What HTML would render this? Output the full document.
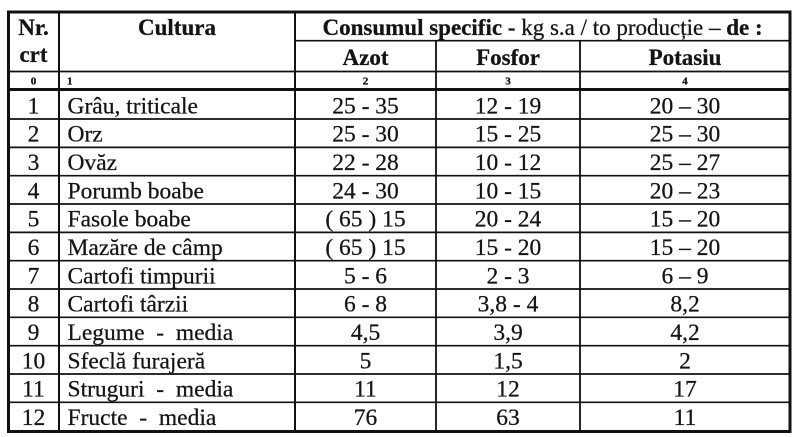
<!DOCTYPE html>
<html>
<head>
<meta charset="utf-8">
<style>
html,body{margin:0;padding:0;background:#fff;}
svg{display:block;}
text{font-family:"Liberation Serif","DejaVu Serif",serif;fill:#141414;stroke:#141414;stroke-width:0.25px;}
.d{font-size:23.5px;}
.b{font-weight:bold;font-size:23px;}
.s{font-weight:bold;font-size:11px;stroke-width:0.3px;}
</style>
</head>
<body>
<svg width="800" height="437" viewBox="0 0 800 437" xmlns="http://www.w3.org/2000/svg">
<rect x="0" y="0" width="800" height="437" fill="#fff"/>
<g stroke="#111" fill="none">
  <line x1="295" y1="40.7" x2="790" y2="40.7" stroke-width="1.7"/>
  <line x1="8" y1="71.5" x2="790" y2="71.5" stroke-width="1.7"/>
  <line x1="8" y1="89.5" x2="790" y2="89.5" stroke-width="3"/>
  <line x1="8" y1="119.0" x2="790" y2="119.0" stroke-width="1.7"/>
  <line x1="8" y1="147.4" x2="790" y2="147.4" stroke-width="1.7"/>
  <line x1="8" y1="175.7" x2="790" y2="175.7" stroke-width="1.7"/>
  <line x1="8" y1="204.0" x2="790" y2="204.0" stroke-width="1.7"/>
  <line x1="8" y1="232.4" x2="790" y2="232.4" stroke-width="1.7"/>
  <line x1="8" y1="260.7" x2="790" y2="260.7" stroke-width="1.7"/>
  <line x1="8" y1="289.0" x2="790" y2="289.0" stroke-width="1.7"/>
  <line x1="8" y1="317.3" x2="790" y2="317.3" stroke-width="1.7"/>
  <line x1="8" y1="345.7" x2="790" y2="345.7" stroke-width="1.7"/>
  <line x1="8" y1="374.0" x2="790" y2="374.0" stroke-width="1.7"/>
  <line x1="8" y1="402.3" x2="790" y2="402.3" stroke-width="1.7"/>
  <line x1="59" y1="11" x2="59" y2="431" stroke-width="2"/>
  <line x1="295" y1="11" x2="295" y2="431" stroke-width="2"/>
  <line x1="436" y1="40.7" x2="436" y2="431" stroke-width="1.8"/>
  <line x1="580" y1="40.7" x2="580" y2="431" stroke-width="1.8"/>
  <rect x="8.5" y="12" width="781.5" height="419.5" stroke-width="3"/>
</g>

<text class="b" x="33.5" y="35" text-anchor="middle">Nr.</text>
<text class="b" x="33.5" y="62" text-anchor="middle">crt</text>
<text class="b" x="177" y="35" text-anchor="middle">Cultura</text>
<text x="322.5" y="35" font-size="23px"><tspan font-weight="bold">Consumul specific -</tspan> kg s.a / to producție – <tspan font-weight="bold">de :</tspan></text>
<text class="b" x="365.5" y="65" text-anchor="middle">Azot</text>
<text class="b" x="508" y="65" text-anchor="middle">Fosfor</text>
<text class="b" x="685" y="65" text-anchor="middle">Potasiu</text>

<text class="s" x="33.5" y="84.5" text-anchor="middle">0</text>
<text class="s" x="67" y="84.5">1</text>
<text class="s" x="365.5" y="84.5" text-anchor="middle">2</text>
<text class="s" x="508" y="84.5" text-anchor="middle">3</text>
<text class="s" x="685" y="84.5" text-anchor="middle">4</text>

<text class="d" x="33.5" y="113.3" text-anchor="middle">1</text>
<text class="d" x="67.5" y="113.3">Grâu, triticale</text>
<text class="d" x="365.5" y="113.3" text-anchor="middle">25 - 35</text>
<text class="d" x="508" y="113.3" text-anchor="middle">12 - 19</text>
<text class="d" x="685" y="113.3" text-anchor="middle">20 – 30</text>

<text class="d" x="33.5" y="141.6" text-anchor="middle">2</text>
<text class="d" x="67.5" y="141.6">Orz</text>
<text class="d" x="365.5" y="141.6" text-anchor="middle">25 - 30</text>
<text class="d" x="508" y="141.6" text-anchor="middle">15 - 25</text>
<text class="d" x="685" y="141.6" text-anchor="middle">25 – 30</text>

<text class="d" x="33.5" y="170" text-anchor="middle">3</text>
<text class="d" x="67.5" y="170">Ovăz</text>
<text class="d" x="365.5" y="170" text-anchor="middle">22 - 28</text>
<text class="d" x="508" y="170" text-anchor="middle">10 - 12</text>
<text class="d" x="685" y="170" text-anchor="middle">25 – 27</text>

<text class="d" x="33.5" y="198.3" text-anchor="middle">4</text>
<text class="d" x="67.5" y="198.3">Porumb boabe</text>
<text class="d" x="365.5" y="198.3" text-anchor="middle">24 - 30</text>
<text class="d" x="508" y="198.3" text-anchor="middle">10 - 15</text>
<text class="d" x="685" y="198.3" text-anchor="middle">20 – 23</text>

<text class="d" x="33.5" y="226.6" text-anchor="middle">5</text>
<text class="d" x="67.5" y="226.6">Fasole boabe</text>
<text class="d" x="365.5" y="226.6" text-anchor="middle">( 65 ) 15</text>
<text class="d" x="508" y="226.6" text-anchor="middle">20 - 24</text>
<text class="d" x="685" y="226.6" text-anchor="middle">15 – 20</text>

<text class="d" x="33.5" y="255" text-anchor="middle">6</text>
<text class="d" x="67.5" y="255">Mazăre de câmp</text>
<text class="d" x="365.5" y="255" text-anchor="middle">( 65 ) 15</text>
<text class="d" x="508" y="255" text-anchor="middle">15 - 20</text>
<text class="d" x="685" y="255" text-anchor="middle">15 – 20</text>

<text class="d" x="33.5" y="283.3" text-anchor="middle">7</text>
<text class="d" x="67.5" y="283.3">Cartofi timpurii</text>
<text class="d" x="365.5" y="283.3" text-anchor="middle">5 - 6</text>
<text class="d" x="508" y="283.3" text-anchor="middle">2 - 3</text>
<text class="d" x="685" y="283.3" text-anchor="middle">6 – 9</text>

<text class="d" x="33.5" y="311.6" text-anchor="middle">8</text>
<text class="d" x="67.5" y="311.6">Cartofi târzii</text>
<text class="d" x="365.5" y="311.6" text-anchor="middle">6 - 8</text>
<text class="d" x="508" y="311.6" text-anchor="middle">3,8 - 4</text>
<text class="d" x="685" y="311.6" text-anchor="middle">8,2</text>

<text class="d" x="33.5" y="340" text-anchor="middle">9</text>
<text class="d" x="67.5" y="340">Legume &#160;-&#160; media</text>
<text class="d" x="365.5" y="340" text-anchor="middle">4,5</text>
<text class="d" x="508" y="340" text-anchor="middle">3,9</text>
<text class="d" x="685" y="340" text-anchor="middle">4,2</text>

<text class="d" x="33.5" y="368.3" text-anchor="middle">10</text>
<text class="d" x="67.5" y="368.3">Sfeclă furajeră</text>
<text class="d" x="365.5" y="368.3" text-anchor="middle">5</text>
<text class="d" x="508" y="368.3" text-anchor="middle">1,5</text>
<text class="d" x="685" y="368.3" text-anchor="middle">2</text>

<text class="d" x="33.5" y="396.6" text-anchor="middle">11</text>
<text class="d" x="67.5" y="396.6">Struguri &#160;-&#160; media</text>
<text class="d" x="365.5" y="396.6" text-anchor="middle">11</text>
<text class="d" x="508" y="396.6" text-anchor="middle">12</text>
<text class="d" x="685" y="396.6" text-anchor="middle">17</text>

<text class="d" x="33.5" y="425" text-anchor="middle">12</text>
<text class="d" x="67.5" y="425">Fructe &#160;-&#160; media</text>
<text class="d" x="365.5" y="425" text-anchor="middle">76</text>
<text class="d" x="508" y="425" text-anchor="middle">63</text>
<text class="d" x="685" y="425" text-anchor="middle">11</text>
</svg>
</body>
</html>
